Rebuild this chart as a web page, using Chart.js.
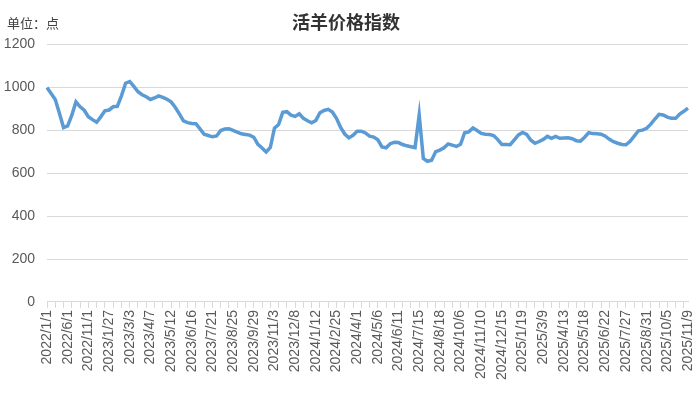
<!DOCTYPE html>
<html>
<head>
<meta charset="utf-8">
<script src="https://cdn.jsdelivr.net/npm/chart.js"></script>
<style>
  body { margin: 0; background: #fff; }
  #wrap { position: relative; width: 692px; height: 393px; }
  #unit { position: absolute; left: 7px; top: 13px; font: 13px "Noto Sans CJK SC", sans-serif; color: #404040; }
</style>
</head>
<body>
<div id="wrap">
  <canvas id="myChart" width="692" height="393"></canvas>
  <div id="unit">单位：点</div>
</div>
<script>
// chart data
var tickLabels = ["2022/1/1", "2022/6/1", "2022/11/1", "2023/1/27", "2023/3/3", "2023/4/7", "2023/5/12", "2023/6/16",
  "2023/7/21", "2023/8/25", "2023/9/29", "2023/11/3", "2023/12/8", "2024/1/12", "2024/2/25", "2024/4/1",
  "2024/5/6", "2024/6/11", "2024/7/15", "2024/8/18", "2024/10/6", "2024/11/10", "2024/12/15", "2025/1/19",
  "2025/3/9", "2025/4/13", "2025/5/18", "2025/6/22", "2025/7/27", "2025/8/31", "2025/10/5", "2025/11/9"];

var indexValues = [1000, 972, 944, 880, 813, 821, 871, 933, 910, 894,
  864, 850, 838, 863, 891, 895, 910, 912, 961, 1020,
  1028, 1005, 980, 966, 957, 944, 951, 961, 954, 945,
  933, 908, 877, 844, 836, 832, 831, 807, 782, 776,
  770, 774, 799, 806, 807, 800, 792, 784, 781, 778,
  768, 735, 718, 699, 720, 810, 827, 884, 887, 871,
  865, 877, 856, 845, 835, 846, 882, 893, 898, 886,
  856, 814, 783, 765, 777, 796, 796, 788, 773, 769,
  756, 723, 719, 738, 744, 743, 734, 728, 724, 720,
  872, 669, 656, 661, 701, 708, 719, 737, 731, 725,
  735, 789, 793, 811, 799, 786, 782, 781, 776, 757,
  734, 734, 733, 756, 779, 790, 781, 754, 740, 748,
  758, 772, 763, 772, 763, 764, 765, 761, 752, 750,
  768, 789, 785, 784, 782, 773, 758, 747, 740, 734,
  733, 749, 773, 798, 801, 810, 829, 853, 875, 872,
  862, 856, 856, 876, 889, 904];

var yTicks = [0, 200, 400, 600, 800, 1000, 1200];

// one label every 5 points, blanks between
var categories = indexValues.map(function (v, i) {
  return i % 5 === 0 ? tickLabels[i / 5] : "";
});

new Chart("myChart", {
  type: "line",
  data: {
    labels: categories,
    datasets: [{
      data: indexValues,
      borderColor: "#5b9bd5",
      borderWidth: 3.5,
      pointRadius: 0,
      tension: 0,
      fill: false
    }]
  },
  options: {
    responsive: false,
    animation: false,
    layout: { padding: { left: 4, right: 4, bottom: 11 } },
    plugins: {
      legend: { display: false },
      tooltip: { enabled: false },
      title: {
        display: true,
        text: "活羊价格指数",
        color: "#333",
        font: { family: "'Noto Sans CJK SC'", size: 18, weight: "bold" },
        padding: { top: 11, bottom: 12 }
      }
    },
    scales: {
      x: {
        offset: false,
        afterFit: function (scale) {
          // let the end labels run to the edges like the original
          scale.paddingLeft = 0;
          scale.paddingRight = 0;
        },
        grid: {
          drawOnChartArea: false,
          tickLength: 6,
          tickColor: function (ctx) { return ctx.index % 2 === 0 ? "#d9d9d9" : "transparent"; }
        },
        border: { color: "#d9d9d9" },
        ticks: {
          autoSkip: false,
          minRotation: 90,
          maxRotation: 90,
          padding: 2,
          color: "#595959",
          font: { family: "'Liberation Sans', Arial", size: 14 }
        }
      },
      y: {
        min: 0,
        max: 1200,
        afterBuildTicks: function (axis) {
          axis.ticks = yTicks.map(function (v) { return { value: v }; });
        },
        afterFit: function (scale) {
          scale.width = 43;
        },
        grid: { color: "#d9d9d9", drawTicks: false },
        border: { display: false },
        ticks: {
          padding: 12,
          color: "#595959",
          font: { family: "'Liberation Sans', Arial", size: 14 },
          callback: function (v) { return String(v); }
        }
      }
    }
  }
});
</script>
</body>
</html>
